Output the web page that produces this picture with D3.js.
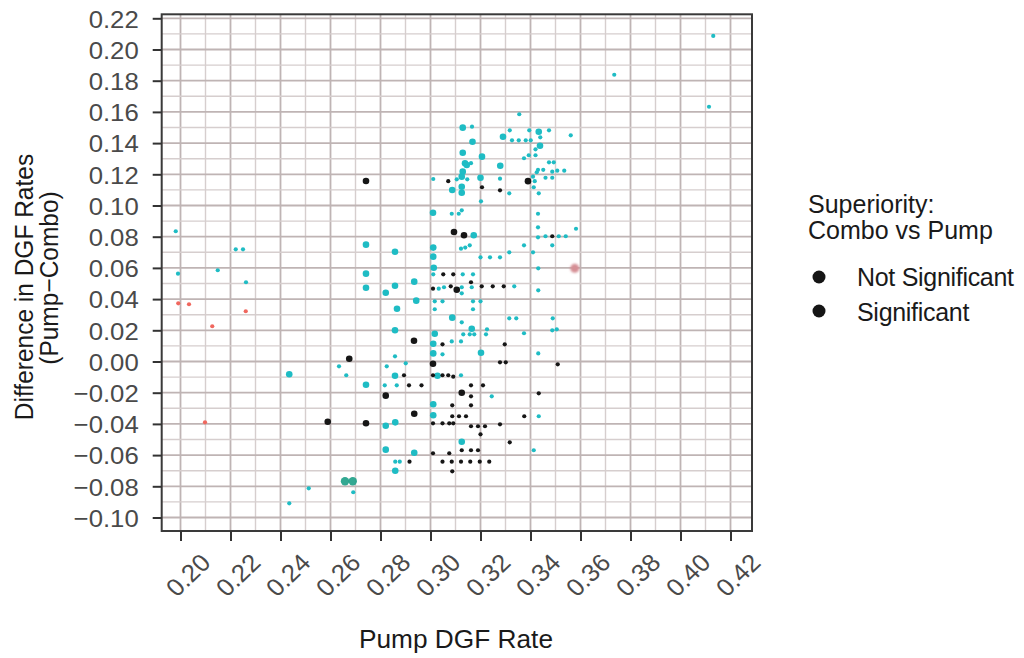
<!DOCTYPE html>
<html>
<head>
<meta charset="utf-8">
<script src="https://cdn.jsdelivr.net/npm/d3@7"></script>
<style>
body { margin: 0; background: #fff; }
text { font-family: "Liberation Sans", Arial, sans-serif; }
</style>
</head>
<body>
<script>
var w = 1024;
var h = 658;
var plotLeft = 161.7, plotRight = 752, plotTop = 14.3, plotBottom = 531;
var stretch = 1.05;   // the text in the picture is drawn a little wide

var xTicks = [0.20, 0.22, 0.24, 0.26, 0.28, 0.30, 0.32, 0.34, 0.36, 0.38, 0.40, 0.42];
var yTicks = [-0.10, -0.08, -0.06, -0.04, -0.02, 0.00, 0.02, 0.04, 0.06, 0.08,
  0.10, 0.12, 0.14, 0.16, 0.18, 0.20, 0.22];

var legendLabels = ["Not Significant", "Significant"];

// [pump DGF rate, difference]
var cyanSmall = [
  [0.4131, 0.2087], [0.3735, 0.1838], [0.4114, 0.1633], [0.3355, 0.1585],
  [0.3166, 0.1505], [0.3317, 0.1482], [0.3395, 0.1482], [0.3474, 0.1482],
  [0.3561, 0.1450], [0.3439, 0.1437], [0.3326, 0.1418], [0.3353, 0.1418],
  [0.3381, 0.1418], [0.3401, 0.1418], [0.3420, 0.1360], [0.3393, 0.1322],
  [0.3420, 0.1322], [0.3374, 0.1303], [0.3162, 0.1271], [0.3474, 0.1277],
  [0.3493, 0.1277], [0.3430, 0.1229], [0.3451, 0.1229], [0.3425, 0.1213],
  [0.3487, 0.1217], [0.3507, 0.1223], [0.3535, 0.1223], [0.3105, 0.1168],
  [0.3147, 0.1168], [0.3278, 0.1172], [0.3410, 0.1185], [0.3460, 0.1178],
  [0.3487, 0.1178], [0.3011, 0.1170], [0.3417, 0.1156], [0.3413, 0.1117],
  [0.3315, 0.1078], [0.3433, 0.1078], [0.3202, 0.1027], [0.3085, 0.0947],
  [0.3113, 0.0947], [0.3125, 0.0969], [0.3430, 0.0947], [0.3430, 0.0860],
  [0.3582, 0.0851], [0.3430, 0.0796], [0.3460, 0.0803], [0.3513, 0.0803],
  [0.3541, 0.0803], [0.3122, 0.0723], [0.3139, 0.0730], [0.3157, 0.0745],
  [0.3374, 0.0745], [0.3487, 0.0745], [0.3315, 0.0700], [0.3410, 0.0700],
  [0.3200, 0.0668], [0.3238, 0.0668], [0.3278, 0.0668], [0.3431, 0.0597],
  [0.1981, 0.0835], [0.1990, 0.0563], [0.2149, 0.0585], [0.2221, 0.0719],
  [0.2250, 0.0719], [0.2262, 0.0508], [0.3011, 0.0559], [0.3129, 0.0559],
  [0.3170, 0.0559], [0.3033, 0.0467], [0.3054, 0.0476], [0.3125, 0.0476],
  [0.3165, 0.0476], [0.3335, 0.0482], [0.3125, 0.0437], [0.3431, 0.0456],
  [0.3017, 0.0386], [0.3048, 0.0386], [0.3170, 0.0386], [0.3200, 0.0386],
  [0.3017, 0.0335], [0.3170, 0.0335], [0.3315, 0.0277], [0.3343, 0.0277],
  [0.3489, 0.0277], [0.3125, 0.0251], [0.3226, 0.0206], [0.3487, 0.0200],
  [0.3505, 0.0206], [0.3131, 0.0174], [0.3157, 0.0174], [0.3175, 0.0174],
  [0.3222, 0.0174], [0.3374, 0.0181], [0.3085, 0.0129], [0.3122, 0.0129],
  [0.3048, 0.0046], [0.3431, 0.0052], [0.2858, 0.0033], [0.2901, -0.0012],
  [0.2825, -0.0031], [0.2634, -0.0031], [0.2663, -0.0088], [0.3122, -0.0088],
  [0.2817, -0.0153], [0.2865, -0.0153], [0.3245, -0.0223], [0.3433, -0.0351],
  [0.3413, -0.0569], [0.2859, -0.0642], [0.2877, -0.0642], [0.2513, -0.0813],
  [0.2691, -0.0838], [0.2435, -0.0909]
];

var cyanBig = [
  [0.3129, 0.1499], [0.3433, 0.1473], [0.3290, 0.1441], [0.3168, 0.1409],
  [0.3438, 0.1383], [0.3129, 0.1338], [0.3206, 0.1313], [0.3138, 0.1271],
  [0.3145, 0.1260], [0.3279, 0.1255], [0.3129, 0.1217], [0.3125, 0.1185],
  [0.3200, 0.1178], [0.3087, 0.1099], [0.3125, 0.1120], [0.3125, 0.1082],
  [0.3010, 0.0954], [0.3173, 0.0809], [0.3011, 0.0730], [0.3011, 0.0672],
  [0.3013, 0.0601], [0.2742, 0.0749], [0.2742, 0.0563], [0.2742, 0.0473],
  [0.2742, -0.0149], [0.2858, 0.0704], [0.2858, 0.0486], [0.2821, 0.0441],
  [0.2866, 0.0338], [0.2858, 0.0200], [0.2935, 0.0512], [0.2943, 0.0390],
  [0.2858, -0.0091], [0.3017, 0.0178], [0.3011, 0.0114], [0.3011, 0.0052],
  [0.3028, -0.0091], [0.3087, 0.0281], [0.3165, 0.0210], [0.3202, 0.0056],
  [0.2435, -0.0082], [0.3011, -0.0274], [0.3011, -0.0345], [0.3125, -0.0514],
  [0.2935, -0.0585], [0.2821, -0.0412], [0.2859, -0.0390], [0.2821, -0.0565],
  [0.2859, -0.0700]
];

var blackSmall = [
  [0.3071, 0.1156], [0.3206, 0.1117], [0.3278, 0.1097], [0.3487, 0.0803],
  [0.3051, 0.0559], [0.3091, 0.0559], [0.3162, 0.0508], [0.3010, 0.0467],
  [0.3081, 0.0482], [0.3205, 0.0482], [0.3249, 0.0482], [0.3293, 0.0482],
  [0.3048, 0.0110], [0.3297, 0.0110], [0.3278, -0.0005], [0.3301, -0.0005],
  [0.3509, -0.0018], [0.2894, -0.0088], [0.3010, -0.0088], [0.3048, -0.0088],
  [0.3071, -0.0088], [0.3091, -0.0097], [0.2914, -0.0153], [0.2964, -0.0153],
  [0.3162, -0.0153], [0.3210, -0.0153], [0.3162, -0.0223], [0.3433, -0.0204],
  [0.3087, -0.0281], [0.3162, -0.0281], [0.3087, -0.0351], [0.3114, -0.0351],
  [0.3142, -0.0351], [0.3375, -0.0351], [0.3010, -0.0396], [0.3048, -0.0396],
  [0.3075, -0.0396], [0.3091, -0.0396], [0.3162, -0.0415], [0.3190, -0.0415],
  [0.3218, -0.0415], [0.3278, -0.0403], [0.3200, -0.0467], [0.3317, -0.0518],
  [0.3125, -0.0569], [0.3162, -0.0569], [0.3190, -0.0569], [0.3010, -0.0588],
  [0.3075, -0.0588], [0.2916, -0.0642], [0.3048, -0.0642], [0.3085, -0.0642],
  [0.3122, -0.0642], [0.3159, -0.0642], [0.3197, -0.0642], [0.3235, -0.0642],
  [0.3087, -0.0704]
];

var blackBig = [
  [0.2742, 0.1157], [0.3390, 0.1156], [0.3094, 0.0830], [0.3134, 0.0809],
  [0.3105, 0.0460], [0.2934, 0.0133], [0.3010, -0.0014], [0.2675, 0.0018],
  [0.2821, -0.0219], [0.3125, -0.0200], [0.2935, -0.0335], [0.2589, -0.0386],
  [0.2742, -0.0396]
];

var redSmall = [
  [0.1991, 0.0373], [0.2034, 0.0367], [0.2127, 0.0226], [0.2261, 0.0322],
  [0.2098, -0.0390]
];

// smudged marks in the scan
var greenPair = [[0.2658, -0.0768], [0.2689, -0.0768]];
var pinkSpot = [[0.3577, 0.0597]];

var xScale = d3.scaleLinear()
  .domain([0.20 - (180.5 - plotLeft) / 2500, 0.20 + (plotRight - 180.5) / 2500])
  .range([plotLeft, plotRight]);

var yScale = d3.scaleLinear()
  .domain([0.22 - (plotBottom - 18.3) / 1560, 0.22 + (18.3 - plotTop) / 1560])
  .range([plotBottom, plotTop]);

var svg = d3.select("body")
  .append("svg")
  .attr("width", w)
  .attr("height", h);

var defs = svg.append("defs");
defs.append("filter").attr("id", "soft")
  .attr("x", "-1").attr("y", "-1").attr("width", "3").attr("height", "3")
  .append("feGaussianBlur").attr("stdDeviation", 1.3);

// grid, every 0.01, darker on the labelled values
var xGrid = d3.range(19, 44).map(function(i) { return { v: i / 100, major: i % 2 === 0 }; })
  .filter(function(d) { return xScale(d.v) > plotLeft + 1 && xScale(d.v) < plotRight - 1; });
var yGrid = d3.range(-11, 23).map(function(i) { return { v: i / 100, major: i % 2 === 0 }; })
  .filter(function(d) { return yScale(d.v) < plotBottom - 1 && yScale(d.v) > plotTop + 1; });

var grid = svg.append("g");
grid.selectAll(".gx")
  .data(xGrid)
  .enter()
  .append("line")
  .attr("x1", function(d) { return xScale(d.v); })
  .attr("x2", function(d) { return xScale(d.v); })
  .attr("y1", plotTop)
  .attr("y2", plotBottom)
  .attr("stroke", function(d) { return d.major ? "#bfb4b4" : "#d6cece"; })
  .attr("stroke-width", function(d) { return d.major ? 1.8 : 1.4; });
grid.selectAll(".gy")
  .data(yGrid)
  .enter()
  .append("line")
  .attr("y1", function(d) { return yScale(d.v); })
  .attr("y2", function(d) { return yScale(d.v); })
  .attr("x1", plotLeft)
  .attr("x2", plotRight)
  .attr("stroke", function(d) { return d.major ? "#bfb4b4" : "#d6cece"; })
  .attr("stroke-width", function(d) { return d.major ? 1.8 : 1.4; });

function dots(data, r, color, extra) {
  var sel = svg.append("g").selectAll("circle")
    .data(data)
    .enter()
    .append("circle")
    .attr("cx", function(d) { return xScale(d[0]); })
    .attr("cy", function(d) { return yScale(d[1]); })
    .attr("r", r)
    .attr("fill", color);
  if (extra) extra(sel);
}

dots(pinkSpot, 4.5, "#d58f95", function(s) { s.attr("filter", "url(#soft)"); });
dots(greenPair, 4.2, "#1d9f86", function(s) { s.attr("opacity", 0.9); });
dots(redSmall, 2.1, "#f0675e");
dots(cyanSmall, 2.1, "#1fbcc4");
dots(cyanBig, 3.3, "#1fbcc4");
dots(blackSmall, 2.1, "#161616");
dots(blackBig, 3.3, "#161616");

// panel frame
svg.append("rect")
  .attr("x", plotLeft)
  .attr("y", plotTop)
  .attr("width", plotRight - plotLeft)
  .attr("height", plotBottom - plotTop)
  .attr("fill", "none")
  .attr("stroke", "#3a3a3a")
  .attr("stroke-width", 2);

// Y-axis
var yAxis = d3.axisLeft(yScale)
  .tickValues(yTicks)
  .tickSize(9)
  .tickFormat(d3.format(".2f"));
var gy = svg.append("g")
  .attr("transform", "translate(" + plotLeft + ",0)")
  .call(yAxis);
gy.select(".domain").remove();
gy.selectAll(".tick line").attr("stroke", "#333").attr("stroke-width", 2);
gy.selectAll(".tick text")
  .attr("x", 0)
  .attr("dy", "0.36em")
  .attr("transform", "translate(-23,0) scale(" + stretch + ",1)")
  .attr("font-size", 24.5)
  .attr("fill", "#4a4a4a");

// X-axis
var xAxis = d3.axisBottom(xScale)
  .tickValues(xTicks)
  .tickSize(10)
  .tickFormat(d3.format(".2f"));
var gx = svg.append("g")
  .attr("transform", "translate(0," + plotBottom + ")")
  .call(xAxis);
gx.select(".domain").remove();
gx.selectAll(".tick line").attr("stroke", "#333").attr("stroke-width", 2);
gx.selectAll(".tick text")
  .attr("x", 0)
  .attr("y", 0)
  .attr("dy", "0.35em")
  .attr("text-anchor", "middle")
  .attr("transform", "translate(7,44) scale(" + stretch + ",1) rotate(-45)")
  .attr("font-size", 24.5)
  .attr("fill", "#4a4a4a");

// X-axis label
svg.append("text")
  .attr("transform", "translate(456,648) scale(" + stretch + ",1)")
  .attr("text-anchor", "middle")
  .attr("font-size", 25)
  .attr("fill", "#1a1a1a")
  .text("Pump DGF Rate");

// Y-axis label, two lines
svg.append("text")
  .attr("transform", "translate(33,287) scale(" + stretch + ",1) rotate(-90)")
  .attr("text-anchor", "middle")
  .attr("font-size", 24.5)
  .attr("fill", "#1a1a1a")
  .text("Difference in DGF Rates");
svg.append("text")
  .attr("transform", "translate(58,278) scale(" + stretch + ",1) rotate(-90)")
  .attr("text-anchor", "middle")
  .attr("font-size", 24.5)
  .attr("fill", "#1a1a1a")
  .text("(Pump\u2212Combo)");

// legend
var legend = svg.append("g");
legend.append("text")
  .attr("transform", "translate(808,213)")
  .attr("font-size", 25)
  .attr("fill", "#1a1a1a")
  .text("Superiority:");
legend.append("text")
  .attr("transform", "translate(808,239)")
  .attr("font-size", 25)
  .attr("fill", "#1a1a1a")
  .text("Combo vs Pump");
legend.selectAll("circle")
  .data(legendLabels)
  .enter()
  .append("circle")
  .attr("cx", 819)
  .attr("cy", function(d, i) { return 277 + i * 34; })
  .attr("r", 6.5)
  .attr("fill", "#151515");
legend.selectAll(".lab")
  .data(legendLabels)
  .enter()
  .append("text")
  .attr("transform", function(d, i) { return "translate(857," + (286 + i * 35) + ")"; })
  .attr("font-size", 25)
  .attr("letter-spacing", -0.3)
  .attr("fill", "#1a1a1a")
  .text(function(d) { return d; });
</script>
</body>
</html>
